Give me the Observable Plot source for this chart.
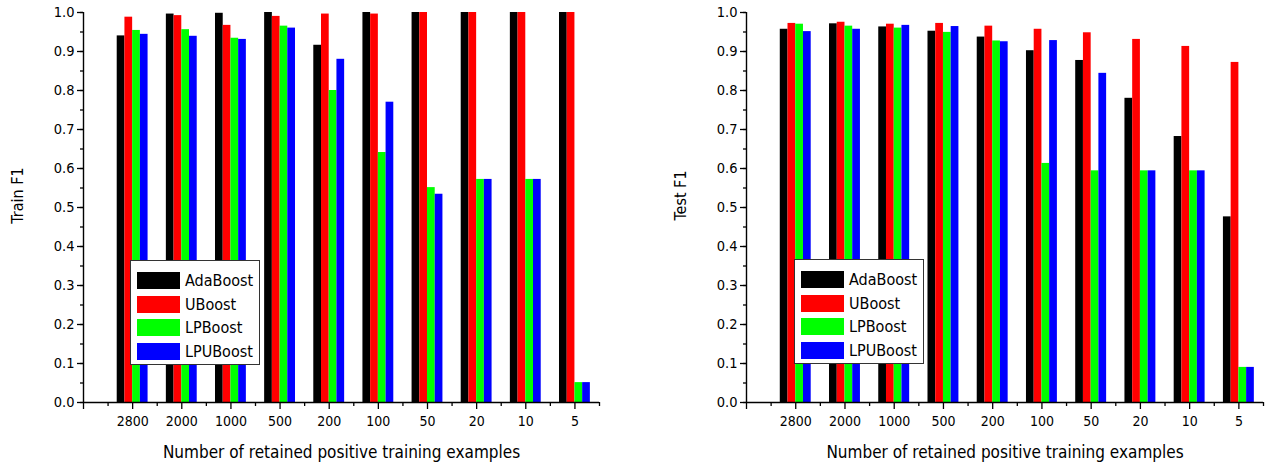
<!DOCTYPE html>
<html>
<head>
<meta charset="utf-8">
<script src="https://cdn.jsdelivr.net/npm/d3@7"></script>
<script src="https://cdn.jsdelivr.net/npm/@observablehq/plot@0.6"></script>
<style>
  html, body { margin: 0; padding: 0; background: #fff; }
  #wrap { position: relative; width: 1265px; height: 463px; overflow: hidden; background: #fff;
          font-family: "DejaVu Sans Condensed", "DejaVu Sans", sans-serif; font-stretch: condensed; }
  .panel { position: absolute; top: 0; }
  .legend { position: absolute; box-sizing: border-box; border: 1px solid #333; background: #fff;
            padding: 8px 0 0 6px; }
  .legend .row { display: flex; align-items: center; height: 23.5px; }
  .legend .sw { width: 43px; height: 17px; margin-right: 5px; }
  .legend .lab { font-size: 16px; color: #000; line-height: 17px; }
</style>
</head>
<body>
<div id="wrap"></div>
<script>
// ---- data ----
const categories = ["2800", "2000", "1000", "500", "200", "100", "50", "20", "10", "5"];
const seriesNames = ["AdaBoost", "UBoost", "LPBoost", "LPUBoost"];
const seriesColors = ["#000000", "#ff0000", "#00ff00", "#0000ff"];

const trainAdaBoost = [0.940, 0.996, 0.998, 1.000, 0.916, 1.000, 1.000, 1.000, 1.000, 1.000];
const trainUBoost   = [0.988, 0.992, 0.967, 0.990, 0.996, 0.996, 1.000, 1.000, 1.000, 1.000];
const trainLPBoost  = [0.954, 0.956, 0.934, 0.965, 0.800, 0.641, 0.551, 0.572, 0.572, 0.051];
const trainLPUBoost = [0.944, 0.939, 0.931, 0.960, 0.880, 0.770, 0.534, 0.572, 0.572, 0.051];

const testAdaBoost  = [0.957, 0.971, 0.963, 0.952, 0.937, 0.902, 0.877, 0.780, 0.682, 0.476];
const testUBoost    = [0.972, 0.975, 0.970, 0.972, 0.965, 0.957, 0.948, 0.931, 0.913, 0.872];
const testLPBoost   = [0.970, 0.965, 0.960, 0.949, 0.927, 0.613, 0.594, 0.594, 0.594, 0.090];
const testLPUBoost  = [0.951, 0.957, 0.967, 0.964, 0.925, 0.928, 0.844, 0.594, 0.594, 0.090];

const yTicksMajor = [0.0, 0.1, 0.2, 0.3, 0.4, 0.5, 0.6, 0.7, 0.8, 0.9, 1.0];
const xTitle = "Number of retained positive training examples";

// ---- chart builder ----
const FONT = '"DejaVu Sans Condensed", "DejaVu Sans", sans-serif';
const barW = 0.157; // bar width as a fraction of one category step

function makeChart(values, yTitle, width, marginRight) {
  const n = categories.length;
  const data = [];
  seriesNames.forEach((s, j) => values[j].forEach((v, i) => data.push({pos: i + 1, j, s, v})));
  const majorX = d3.range(0, n + 1);
  const minorX = d3.range(0.5, n + 1, 1);
  const minorY = d3.ticks(0, 1, 20);
  return Plot.plot({
    width, height: 463,
    marginLeft: 83, marginRight, marginTop: 12, marginBottom: 61,
    style: {fontFamily: FONT, background: "transparent", color: "#000", overflow: "visible"},
    x: {type: "linear", domain: [0, n + 0.5]},
    y: {domain: [0, 1]},
    color: {domain: seriesNames, range: seriesColors},
    marks: [
      Plot.rectY(data, {
        x1: d => d.pos + (d.j - 2) * barW,
        x2: d => d.pos + (d.j - 1) * barW,
        y1: 0, y2: "v", fill: "s"
      }),
      Plot.ruleX([0], {stroke: "#000", strokeWidth: 1.4}),
      Plot.ruleY([0], {stroke: "#000", strokeWidth: 1.4}),
      Plot.axisX(majorX, {tickSize: 7, tickPadding: 7, fontSize: 14, label: null,
        tickFormat: i => (i === 0 ? "" : categories[i - 1]), stroke: "#000", strokeWidth: 1.3}),
      Plot.axisX(minorX, {tickSize: 4, tickFormat: () => "", label: null, stroke: "#000", strokeWidth: 1.3}),
      Plot.axisY(yTicksMajor, {tickSize: 6, tickPadding: 3, fontSize: 14.5, label: null,
        tickFormat: d3.format(".1f"), stroke: "#000", strokeWidth: 1.3}),
      Plot.axisY(minorY, {tickSize: 3, tickFormat: () => "", label: null, stroke: "#000", strokeWidth: 1.3}),
      Plot.text([xTitle], {frameAnchor: "bottom", textAnchor: "middle", lineAnchor: "bottom", dy: 55, fontSize: 17, fill: "#000"}),
      Plot.text([yTitle], {frameAnchor: "left", textAnchor: "middle", lineAnchor: "middle", rotate: -90, dx: -66, dy: -12, fontSize: 16, fill: "#000"})
    ]
  });
}

function makeLegend(left, top) {
  const div = document.createElement("div");
  div.className = "legend";
  div.style.left = left + "px";
  div.style.top = top + "px";
  div.style.width = "130px";
  div.style.height = "105px";
  seriesNames.forEach((s, j) => {
    const row = document.createElement("div");
    row.className = "row";
    const sw = document.createElement("div");
    sw.className = "sw";
    sw.style.background = seriesColors[j];
    const lab = document.createElement("span");
    lab.className = "lab";
    lab.textContent = s;
    row.appendChild(sw);
    row.appendChild(lab);
    div.appendChild(row);
  });
  return div;
}

const wrap = document.getElementById("wrap");

const left = document.createElement("div");
left.className = "panel";
left.style.left = "0px";
left.appendChild(makeChart([trainAdaBoost, trainUBoost, trainLPBoost, trainLPUBoost], "Train F1", 632, 33));
wrap.appendChild(left);

const right = document.createElement("div");
right.className = "panel";
right.style.left = "663px";
right.appendChild(makeChart([testAdaBoost, testUBoost, testLPBoost, testLPUBoost], "Test F1", 602, 2));
wrap.appendChild(right);

wrap.appendChild(makeLegend(130, 260));
wrap.appendChild(makeLegend(794, 259));
</script>
</body>
</html>
